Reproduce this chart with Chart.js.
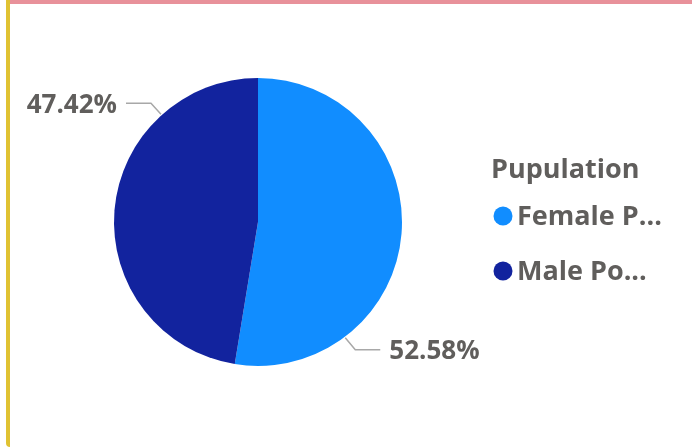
<!DOCTYPE html>
<html lang="en">
<head>
  <meta charset="UTF-8" />
  <title>Pupulation</title>
  <script src="https://cdn.jsdelivr.net/npm/chart.js"></script>
  <style>
    body { margin: 0; background: #fff; }
    .wrap { position: relative; width: 692px; height: 447px; overflow: hidden; }
    .top-bar { position: absolute; left: 10px; top: 0; width: 682px; height: 4px; background: #E8919A; }
    .left-bar { position: absolute; left: 6px; top: 0; width: 4px; height: 447px; background: #E0C232; border-bottom-left-radius: 4px; }
    canvas { position: absolute; left: 0; top: 0; }
  </style>
</head>
<body>
<div class="wrap">
  <canvas id="popChart" width="692" height="447"></canvas>
  <div class="top-bar"></div>
  <div class="left-bar"></div>
</div>

<script>
  const legendTitle = "Pupulation";
  const categories = ["Female Population", "Male Population"];
  const shortLabels = ["Female P...", "Male Po..."];
  const percents = [52.58, 47.42];
  const colors = ["#118DFF", "#12239E"];

  const textColor = "#605E5C";
  const fontFamily = "'Open Sans', 'Noto Sans', sans-serif";

  // leader lines + legend drawn after the pie
  const labelPlugin = {
    id: "pbiLabels",
    afterDraw(chart) {
      const ctx = chart.ctx;
      const arcs = chart.getDatasetMeta(0).data;
      const cx = arcs[0].x, cy = arcs[0].y, r = arcs[0].outerRadius;

      // anchor angles (deg clockwise from top) and label side
      const anchors = [
        { ang: 143, side: 1, drop: 12 },
        { ang: 318, side: -1, drop: -11 }
      ];
      ctx.save();
      ctx.strokeStyle = "#A8A8A8";
      ctx.lineWidth = 1.5;
      ctx.fillStyle = textColor;
      ctx.font = "bold 26px " + fontFamily;
      ctx.textBaseline = "middle";
      anchors.forEach((a, i) => {
        const t = (a.ang - 90) * Math.PI / 180;
        const x0 = cx + Math.cos(t) * (r + 1);
        const y0 = cy + Math.sin(t) * (r + 1);
        const x1 = x0 + a.side * 10;
        const y1 = y0 + a.drop;
        const x2 = x1 + a.side * 25;
        ctx.beginPath();
        ctx.moveTo(x0, y0);
        ctx.lineTo(x1, y1);
        ctx.lineTo(x2, y1);
        ctx.stroke();
        ctx.textAlign = a.side > 0 ? "left" : "right";
        ctx.fillText(percents[i].toFixed(2) + "%", x2 + a.side * 9, y1 + 2);
      });

      // legend
      const lx = 491;
      ctx.textAlign = "left";
      ctx.font = "bold 27px " + fontFamily;
      ctx.fillText(legendTitle, lx, 170);
      shortLabels.forEach((lab, i) => {
        const y = 216 + i * 55;
        ctx.fillStyle = colors[i];
        ctx.beginPath();
        ctx.arc(lx + 12, y, 9.5, 0, Math.PI * 2);
        ctx.fill();
        ctx.fillStyle = textColor;
        ctx.fillText(lab, lx + 26, y + 1);
      });
      ctx.restore();
    }
  };

  new Chart(document.getElementById("popChart").getContext("2d"), {
    type: "pie",
    data: {
      labels: categories,
      datasets: [{
        data: percents,
        backgroundColor: colors,
        borderWidth: 0
      }]
    },
    options: {
      responsive: false,
      animation: false,
      layout: { padding: { left: 114, right: 290, top: 78, bottom: 81 } },
      plugins: {
        legend: { display: false },
        tooltip: { enabled: false }
      }
    },
    plugins: [labelPlugin]
  });
</script>
</body>
</html>
